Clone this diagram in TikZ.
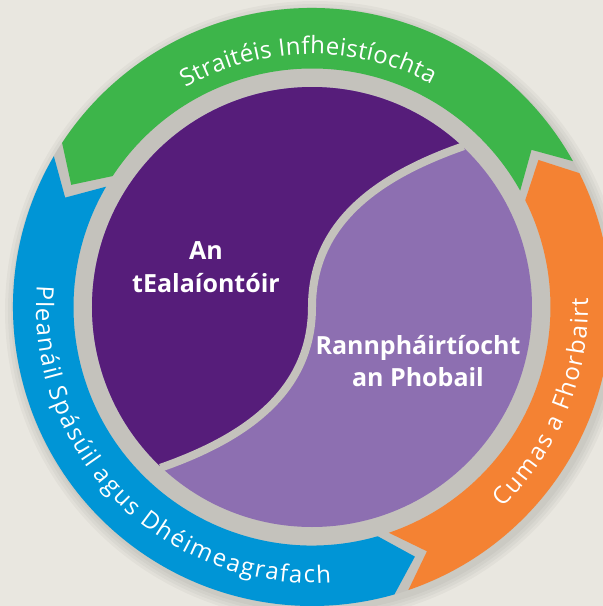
\documentclass[tikz,border=0pt]{standalone}
\usepackage{fontspec}
\setmainfont{Open Sans}
\usepackage{tikz}
\usetikzlibrary{decorations.text}
\definecolor{backbeige}{HTML}{E9E7E0}
\definecolor{bandgrey}{HTML}{C4C2BC}
\definecolor{banddark}{HTML}{B6B4AE}
\definecolor{bandlight}{HTML}{D2D0CA}
\definecolor{gapgrey}{HTML}{CFCDC7}
\definecolor{gapouter}{HTML}{E0DED7}
\definecolor{ringgreen}{HTML}{3DB54A}
\definecolor{ringorange}{HTML}{F48233}
\definecolor{ringblue}{HTML}{0095D6}
\definecolor{darkpurple}{HTML}{561D7A}
\definecolor{lightpurple}{HTML}{8D6FB1}
% radius 299 = 50bp
\pgfdeclareradialshading{bandglow}{\pgfpoint{0bp}{0bp}}{%
    color(0bp)=(bandgrey); color(36.5bp)=(bandgrey); color(37.6bp)=(banddark);
    color(38.5bp)=(bandlight); color(39.6bp)=(bandgrey); color(41bp)=(gapgrey);
    color(46bp)=(gapouter); color(50bp)=(backbeige)}
\newcommand\rout{299}
\newcommand\rin{238.5}
\newcommand\rmid{270}
\newcommand\tipang{6.4}
\newcommand\ringfont{\fontsize{24}{28}\selectfont}
% one arrow of the ring: colour, tail angle, head angle
\newcommand\ringarrow[3]{%
    \fill[#1] (#2:\rout) arc[start angle=#2, end angle=#3, radius=\rout]
        -- ({#3+\tipang}:\rmid) -- (#3:\rin)
        arc[start angle=#3, end angle=#2, radius=\rin]
        -- ({#2+\tipang}:\rmid) -- cycle;}
\tikzset{
    ringtext/.style={decorate, decoration={text effects along path, text={#1},
        text effects/.cd, text along path, fit text to path,
        every character/.style={text=white, font=\ringfont}}},
    centrelabel/.style={text=white, align=center, inner sep=0pt, font=\bfseries\fontsize{25}{32.5}\selectfont},
}
\begin{document}
\begin{tikzpicture}[x=1pt,y=1pt]
    \useasboundingbox (-312,-299) rectangle (291,307);
    \fill[backbeige] (-312,-299) rectangle (291,307);
    % soft shadow of the ring
    \foreach \r in {301,304,307,310}
        \fill[black, opacity=0.03] (3,-4) circle[radius=\r];
    \shade[shading=bandglow] (0,0) circle[radius=\rout];
    % the three arrows
    \ringarrow{ringorange}{-71.2}{26.6}
    \ringarrow{ringgreen}{29.2}{146.7}
    \ringarrow{ringblue}{149.7}{286}
    % the two halves of the disc
    \fill[lightpurple] (0,0) circle[radius=220];
    \fill[darkpurple] (46.7:220) arc[start angle=46.7, end angle=226.7, radius=220]
        .. controls (-72,-133) and (0,-88) .. (0,0)
        .. controls (0,88) and (72,133) .. (46.7:220) -- cycle;
    \draw[bandgrey, line width=8pt] (226.7:221) .. controls (-72,-133) and (0,-88) .. (0,0)
        .. controls (0,88) and (72,133) .. (46.7:221);
    % texts
    \path[ringtext={Straitéis Infheistíochta}] (120:253) arc[start angle=120, end angle=61.8, radius=253];
    \path[ringtext={Pleanáil Spásúil agus Dhéimeagrafach}] (175.5:276) arc[start angle=175.5, end angle=274, radius=276];
    \path[ringtext={Cumas a Fhorbairt}] (-46.5:276) arc[start angle=-46.5, end angle=1.8, radius=276];
    \node[centrelabel] (artist) at (-106,40) {An\\tEalaíontóir};
    \node[centrelabel] (public) at (106,-54) {Rannpháirtíocht\\an Phobail};
\end{tikzpicture}
\end{document}
